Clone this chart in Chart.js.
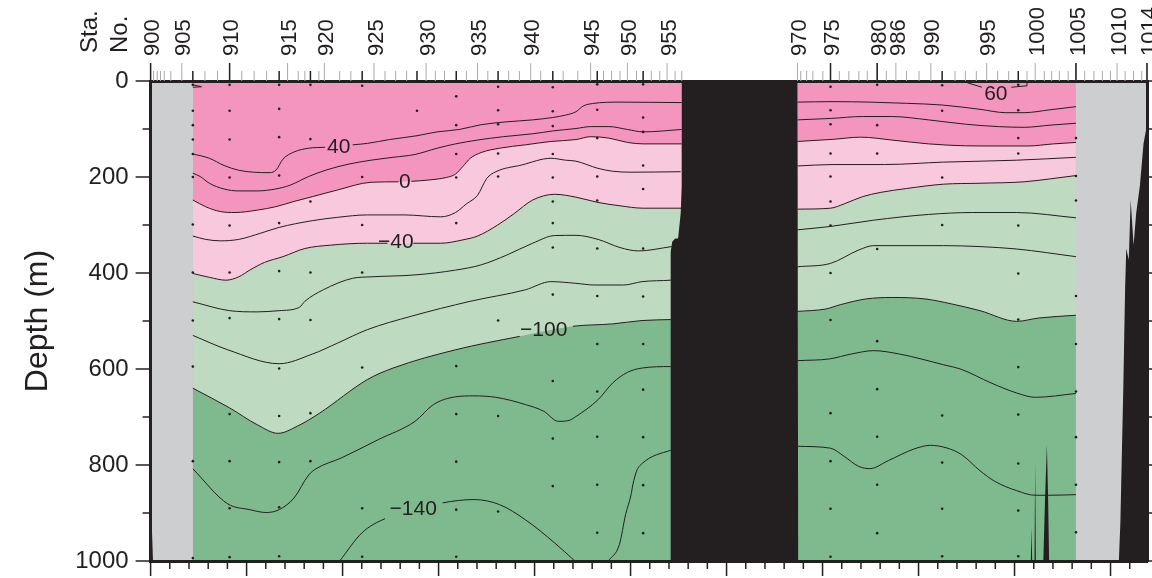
<!DOCTYPE html>
<html>
<head>
<meta charset="utf-8">
<title>Depth section</title>
<script src="https://cdn.jsdelivr.net/npm/chart.js@4"></script>
<style>
  html, body { margin: 0; background: #ffffff; }
  #wrap { width: 1152px; height: 578px; }
</style>
</head>
<body>
<div id="wrap"><canvas id="graphCanvas" width="1152" height="578"></canvas></div>
<script>
// station labels along the top, distance in km
var stationLabels = ['900','905','910','915','920','925','930','935','940','945','950','955','970','975','980','986','990','995','1000','1005','1010','1014'];
var labelKm = [0,32.5,82.3,142.7,181,232.7,287,340.6,396,458.4,496.7,538,673.9,708.3,756.9,776.4,812.8,871,921.5,964,1006.8,1038];
var otherStationKm = [3.1,6.9,10.3,14.2,21,56.6,69.7,94.9,107.9,120.9,153.8,160.7,175.3,197,208.6,244.2,255.3,266.7,296.6,306.2,329,351.3,373,384.2,406.4,429.8,445,471.8,480.2,489,506.2,521.6,530.4,546.4,553.3,677.3,683.4,689.9,700.3,717.5,727.4,737.8,746.6,766.5,787.5,800.5,838,848.8,860.2,882.4,893.9,913,931,938.7,946.7,955.9,973.1,982.7,991.5,999.9,1015.2,1024,1032.5];
var sampledKm = [0,44,82.3,133.9,166.5,220.4,277.5,318.4,362,419,465.3,513.1,708.3,756.9,824.6,903.9,964,1038];

// bottle samples: one depth list per station column
var columnKm = [44,82.3,133.9,166.5,220.4,277.5,318.4,362,419,465.3,513.1,708.3,756.9,824.6,903.9,964];
var columnDepths = [
  [8,62,92,122,152,200,299,399,499,595,792,994],
  [8,62,122,201,301,399,494,694,792,890,992],
  [8,58,117,197,296,396,496,599,698,794,888,990],
  [8,121,251,399,498,692,792],
  [10,200,300,399,597,890,991],
  [62],
  [32,92,152,201,296,594,694,793,893,991],
  [12,61,90,151,199,499,698,897],
  [13,63,94,152,201,251,296,347,445,625,745,844],
  [7,60,119,199,249,349,448,548,647,741,841,941],
  [7,76,106,176,225,349,449,548,643,742,842,942],
  [12,61,90,151,199,251,301,400,498,692,792,891,991],
  [8,92,151,350,542,642,741,841,942],
  [9,62,201,300,697,795,891,990],
  [8,61,119,151,301,401,497,596,695,797,895,990],
  [119,198,249,448,548,647,742,841,940]
];

// contours, west part (L) and east part (R) of the section
var km40L = [44,61.2,76.5,91.8,107.2,124.4,130.9,137.8,149.3,164.6,181.8,210.5,225.8,248.8,277.5,298.5,321.5,344.4,371.2,398,419,432.4,443.1,450.8,460.3,489,553.3];
var dep40L = [152,161,176,186,190,191,185,163,148,140,138,133,130,122,114,106,101,91,85,81,76,71,64,52,47,44,45];
var km40R = [673.9,711,749.3,787.5,824.6,864.1,890.9,910,936.8,964];
var dep40R = [44,43,44,46.5,50,59,66,66,60,53.5];

var km20L = [44,51.7,61.2,76.5,91.8,111,130.1,145.4,164.6,183.7,206.7,229.6,252.6,275.5,298.5,317.6,340.6,367.4,398,419,443.1,458.4,477.5,496.7,513.1,553.3];
var dep20L = [192,199,213,225,229,229,225,217,199,185,173,165,159,153,140,131,123,116,110,104,99,95,95,101,106,101];
var km20R = [673.9,708.3,741.6,772.2,810.5,848.8,883.2,910,936.8,964];
var dep20R = [81,78,74,74,81,90,95,96.5,92,88];

var km0L = [44,57.4,72.7,88,111,130.1,149.3,168.4,194.8,229.6,258.3,271.7,290.9,308.1,317.6,325.3,333,344.4,363.6,390.4,417,443.1,458.4,477.5,496.7,513.1,553.3];
var dep0L = [248,262,272,274,269,262,251,241,227,211,210,209,206,201,194,178,161,149,140,133,126,122,116,119,128,131,131];
var km0R = [673.9,711,739.7,772.2,810.5,848.8,875.5,913.8,940.6,964];
var dep0R = [126,121.5,117,123,131,135,135.4,135.4,131,128];

var kmM20L = [44,57.4,72.7,91.8,114.8,133.9,168.4,194.8,225.8,264.1,302.3,317.6,329,340.6,350.2,359.7,386.5,417.1,432.4,443.1,466.1,481.4,500.5,552.2];
var depM20L = [323,330,333,330,317,305,291,284,279,279,283,274,256,238,203,189,175,161,165,167,182,188,190,189];
var kmM20R = [673.9,711,764.6,825.8,902.3,964];
var depM20R = [177,174,174,169,165,159];

var kmM40L = [44,61.2,78.5,91.8,103.3,118.6,137.8,160.7,187.5,225.8,246.8,273.6,302.3,325.3,340.6,361.6,378.9,398,421,443.1,466.1,489,513.1,553.3];
var depM40L = [401,409,415,408,394,378,366,349,342,338,338,338,338,331,323,300,276,248,236,242,253,260,265,265];
var kmM40R = [673.9,708.3,722.5,741.6,760.7,787.5,825.8,864.1,910,936.8,964];
var depM40R = [267,265,256,241,232,224,215,213,210,204,197];

var kmM60L = [44,82.3,111,133.9,155,160.7,179.9,210.5,229.6,275.5,317.6,344.4,371.2,398,421,443.1,466.1,489,508.2,542.6,553];
var depM60L = [460,478.5,481,478.5,471.5,459,435,411,408,404,394,383,362.5,338,322,321.5,330,347,354,345,342];
var kmM60R = [673.9,708.3,753.1,810.5,856.4,902.3,964];
var depM60R = [310,303,290,278,274,274,285];

var kmM80L = [44,80.4,133.9,168.4,194.8,225.8,271.7,332.9,390.4,417,443.1,462.2,492.8,512,541.8,553];
var depM80L = [530,560,589,569,546,518,490,459,435,418,421.5,425,425,418,415,413];
var kmM80R = [673.9,708.3,737.8,753.1,825.8,864.1,902.3,964];
var depM80R = [387,380,352,343,343,345,350,366];

var kmM100L = [44,82.3,111,132.8,153,176,225.8,252.6,317.6,384.6,440,481.4,512,541.8,553];
var depM100L = [640,681,716,734,719,692,622,598,560,532,511,506,499,497,496];
var kmM100R = [673.9,703.3,718.6,745.4,772.2,806.7,833.5,864.1,902.3,925.3,964];
var depM100R = [480,475,466,454,451,454,464,478.5,500.7,493.75,488];

var kmM120L = [44,80.4,103.3,120.6,133.9,149.3,164.6,172.2,199,237.3,275.5,294.7,317.6,336.8,359.7,390.4,409.5,424.8,436,443.1,466.1,481.4,496.7,512,541.8,553];
var depM120L = [808,881,893,899,893,869,821,808,785,747,709,674,658,656,659,674,688,709,707,699,664,629,607,598,595,595];
var kmM120R = [673.9,707.2,730.1,753.1,779.9,825.8,844.9,875.5,902.3,921.5,964];
var depM120R = [582.6,579,568.75,561.8,568.75,591,601,629,650,659,651];

var kmM140A = [197,220,244.2,304.2,336.8,363.6,390.4,421,442];
var depM140A = [1000,941.7,911.8,879,872,882.6,914,962.5,1000];
var kmM140B = [476.8,488.3,494.8,500.5,502.4,506.2,512,541.8,553];
var depM140B = [1000,966,903.5,862,841,813,797,769.4,765];
var kmM140R = [673.9,708.3,722.5,737.8,749.3,768.4,795.2,812.4,829.6,844.9,864.1,879.4,902.3,921.5,936.8,964];
var depM140R = [761,765,782,803,807.6,791,766.7,759,764.6,778.5,812,834,853.5,863,863,861.8];

var km60R = [845,866,896.6,913,913];
var dep60R = [0,13,13,10,3.5];
var km60Small = [44,53,44];
var dep60Small = [8,12,13];

// sea floor
var floorKm = [0,2.5,541.8,541.8,543.4,546.4,549.5,552.2,553.3,553.3,673.9,674.6,917,917.6,918.4,920.8,921.5,922.2,930,931.8,933.7,935,936,1008.7,1010.3,1013.3,1015.2,1016.4,1019,1021,1024,1026.7,1030.5,1034.4,1037,1038];
var floorDepth = [850,1000,1000,356,335,328,328,276,220,0,0,1000,1000,930,1000,1000,795,1000,1000,870,758,870,1000,1000,917,640,431,349,373,248,342,276,220,130,102,0];

// inline contour labels and the km range where each line breaks for it
var contourLabels = ['40','0','\u221240','\u2212100','\u2212140','60'];
var contourLabelKm = [196,264.8,255.5,409.5,273.6,880.5];
var contourLabelDepth = [137.5,211,336,520,893,27];
var gap40 = [181.8,210.5];
var gap0 = [258.3,271.7];
var gapM40 = [246.8,273.6];
var gapM100 = [384.6,440];
var gapM140 = [244.2,304.2];
var gap60 = [866,896.6];

var FONT = '"Liberation Sans", Arial, sans-serif';
var INK = '#231F20';
var PINK = '#F495BD';
var LIGHT_PINK = '#F8C8DD';
var LIGHT_GREEN = '#BEDAC0';
var GREEN = '#7FBA8E';
var GRAY = '#CDCED0';

function points(xs, ys) {
    return xs.map(function (x, i) { return { x: x, y: ys[i] }; });
}

function band(xs, ys, color) {
    return {
        data: points(xs, ys),
        borderWidth: 0,
        backgroundColor: color,
        fill: { value: 1000 },
        pointRadius: 0,
        cubicInterpolationMode: 'monotone'
    };
}

function contour(xs, ys, gap, straight) {
    return {
        data: points(xs, ys),
        borderColor: INK,
        borderWidth: 1,
        fill: false,
        pointRadius: 0,
        cubicInterpolationMode: straight ? 'default' : 'monotone',
        segment: {
            borderColor: function (ctx) {
                if (gap && ctx.p0.parsed.x >= gap[0] && ctx.p1.parsed.x <= gap[1]) return 'transparent';
                return undefined;
            }
        }
    };
}

// paint order, back to front
var layers = [
    band([0, 1038], [0, 0], GRAY),
    band([44, 553.3], [0, 0], PINK),
    band([673.9, 964], [0, 0], PINK),
    band(km0L, dep0L, LIGHT_PINK),
    band(km0R, dep0R, LIGHT_PINK),
    band(kmM40L, depM40L, LIGHT_GREEN),
    band(kmM40R, depM40R, LIGHT_GREEN),
    band(kmM100L, depM100L, GREEN),
    band(kmM100R, depM100R, GREEN),
    contour(km40L, dep40L, gap40),
    contour(km40R, dep40R),
    contour(km20L, dep20L),
    contour(km20R, dep20R),
    contour(km0L, dep0L, gap0),
    contour(km0R, dep0R),
    contour(kmM20L, depM20L),
    contour(kmM20R, depM20R),
    contour(kmM40L, depM40L, gapM40),
    contour(kmM40R, depM40R),
    contour(kmM60L, depM60L),
    contour(kmM60R, depM60R),
    contour(kmM80L, depM80L),
    contour(kmM80R, depM80R),
    contour(kmM100L, depM100L, gapM100),
    contour(kmM100R, depM100R),
    contour(kmM120L, depM120L),
    contour(kmM120R, depM120R),
    contour(kmM140A, depM140A, gapM140),
    contour(kmM140B, depM140B),
    contour(kmM140R, depM140R),
    contour(km60R, dep60R, gap60, true),
    contour(km60Small, dep60Small, null, true),
    {
        data: points(floorKm, floorDepth),
        borderWidth: 0,
        backgroundColor: INK,
        fill: { value: 1000 },
        pointRadius: 0
    },
    {
        data: columnKm.flatMap(function (km, i) {
            return columnDepths[i].map(function (d) { return { x: km, y: d }; });
        }),
        showLine: false,
        pointRadius: 1.3,
        pointBackgroundColor: INK,
        pointBorderWidth: 0
    }
];
layers.forEach(function (d, i) { d.order = layers.length - i; });

function stroke(ctx, x0, y0, x1, y1) {
    ctx.beginPath();
    ctx.moveTo(x0, y0);
    ctx.lineTo(x1, y1);
    ctx.stroke();
}

// tick marks of different lengths, contour labels and the Sta./No. heading
var sectionMarks = {
    id: 'sectionMarks',
    afterDraw: function (chart) {
        var ctx = chart.ctx;
        var x = chart.scales.x, y = chart.scales.y;
        var top = chart.chartArea.top, bottom = chart.chartArea.bottom;
        var left = chart.chartArea.left, right = chart.chartArea.right;
        ctx.save();

        ctx.lineWidth = 1;
        ctx.strokeStyle = '#A7A9AC';
        otherStationKm.forEach(function (km) {
            var px = x.getPixelForValue(km);
            stroke(ctx, px, top, px, top - 10);
        });
        labelKm.forEach(function (km) {
            var px = x.getPixelForValue(km);
            stroke(ctx, px, top, px, top - 18);
        });
        ctx.lineWidth = 1.5;
        ctx.strokeStyle = INK;
        sampledKm.forEach(function (km) {
            var px = x.getPixelForValue(km);
            stroke(ctx, px, top, px, top - (labelKm.indexOf(km) >= 0 ? 18 : 10));
        });

        // depth ticks, left and right
        for (var d = 0; d <= 1000; d += 100) {
            var py = y.getPixelForValue(d);
            stroke(ctx, left, py, left - (d % 200 === 0 ? 15 : 8), py);
            stroke(ctx, right, py, right + 5, py);
        }
        // distance ticks below
        for (var km = 0; km <= 1038; km += 20) {
            var bx = x.getPixelForValue(km);
            stroke(ctx, bx, bottom, bx, bottom + (km % 100 === 0 ? 15 : 8));
        }

        ctx.fillStyle = INK;
        ctx.font = '21px ' + FONT;
        ctx.textAlign = 'center';
        ctx.textBaseline = 'middle';
        contourLabels.forEach(function (text, i) {
            ctx.fillText(text, x.getPixelForValue(contourLabelKm[i]), y.getPixelForValue(contourLabelDepth[i]));
        });

        ctx.font = '24px ' + FONT;
        ctx.textAlign = 'left';
        [['Sta.', 90], ['No.', 120]].forEach(function (h) {
            ctx.save();
            ctx.translate(h[1], 53);
            ctx.rotate(-Math.PI / 2);
            ctx.fillText(h[0], 0, 0);
            ctx.restore();
        });
        ctx.restore();
    }
};

var axisBorder = { color: INK, width: 3, z: 1 };

// fixed axis sizes, and no extra room for labels that stick out at the ends
function fixSize(prop, size) {
    return function (scale) {
        scale[prop] = size;
        scale.paddingLeft = scale.paddingRight = scale.paddingTop = scale.paddingBottom = 0;
    };
}

new Chart(document.getElementById('graphCanvas'), {
    type: 'line',
    data: { datasets: layers },
    plugins: [sectionMarks],
    options: {
        responsive: false,
        animation: false,
        events: [],
        layout: { padding: 0, autoPadding: false },
        plugins: {
            legend: { display: false },
            tooltip: { enabled: false },
            title: { display: false }
        },
        scales: {
            x: {
                type: 'linear',
                position: 'bottom',
                min: 0,
                max: 1038,
                border: axisBorder,
                grid: { drawOnChartArea: false, drawTicks: false },
                ticks: { display: false },
                afterFit: fixSize('height', 17)
            },
            x2: {
                type: 'linear',
                position: 'top',
                min: 0,
                max: 1038,
                border: axisBorder,
                grid: { drawOnChartArea: false, drawTicks: false },
                afterBuildTicks: function (scale) {
                    scale.ticks = labelKm.map(function (km) { return { value: km }; });
                },
                ticks: {
                    autoSkip: false,
                    minRotation: 90,
                    maxRotation: 90,
                    padding: 25,
                    labelOffset: 29,
                    color: INK,
                    font: { family: FONT, size: 22 },
                    callback: function (value, index) { return stationLabels[index]; }
                },
                afterFit: fixSize('height', 81)
            },
            y: {
                type: 'linear',
                position: 'left',
                reverse: true,
                min: 0,
                max: 1000,
                border: axisBorder,
                grid: { drawOnChartArea: false, drawTicks: false },
                title: {
                    display: true,
                    text: 'Depth (m)',
                    color: INK,
                    font: { family: FONT, size: 32 },
                    padding: { top: 19, bottom: 0 }
                },
                ticks: {
                    stepSize: 200,
                    padding: 22,
                    color: INK,
                    font: { family: FONT, size: 24 },
                    callback: function (value) { return String(value); }
                },
                afterFit: fixSize('width', 150.6)
            },
            y2: {
                type: 'linear',
                position: 'right',
                reverse: true,
                min: 0,
                max: 1000,
                border: axisBorder,
                grid: { drawOnChartArea: false, drawTicks: false },
                ticks: { display: false },
                afterFit: fixSize('width', 5)
            }
        }
    }
});
</script>
</body>
</html>
